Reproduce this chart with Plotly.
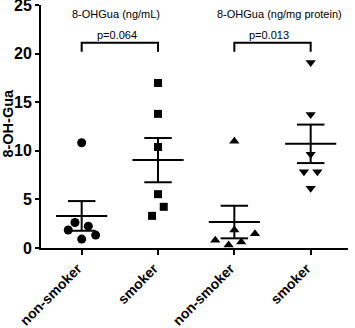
import numpy as np
import plotly.graph_objects as go

# ---- data ----
categories = ["non-smoker", "smoker", "non-smoker", "smoker"]
g1_nonsmoker_ngml = [10.84, 2.63, 2.25, 1.85, 1.33, 0.92]
g2_smoker_ngml = [16.99, 13.81, 10.40, 5.54, 4.24, 3.31]
g3_nonsmoker_ngmg = [10.98, 1.85, 0.80, 0.32, 0.62, 1.47]
g4_smoker_ngmg = [19.10, 13.74, 9.64, 7.86, 7.86, 6.15]
jitter_g1 = [0.0, -0.088, 0.087, -0.176, 0.183, 0.0]
jitter_g2 = [0.0, 0.0, 0.0, 0.0, 0.075, -0.078]
jitter_g3 = [0.0, 0.0, -0.25, -0.075, 0.09, 0.27]
jitter_g4 = [0.0, 0.0, 0.0, -0.088, 0.088, 0.0]
p_values = ["p=0.064", "p=0.013"]
panel_titles = ["8-OHGua (ng/mL)", "8-OHGua (ng/mg protein)"]
y_ticks = [0, 5, 10, 15, 20, 25]

groups = [g1_nonsmoker_ngml, g2_smoker_ngml, g3_nonsmoker_ngmg, g4_smoker_ngmg]
jitters = [jitter_g1, jitter_g2, jitter_g3, jitter_g4]
symbols = ["circle", "square", "triangle-up", "triangle-down"]
sizes = [9, 8, 9, 9]

FONT = "Liberation Sans, Arial, Helvetica, sans-serif"
fig = go.Figure()

for i, (vals, jit, sym, sz) in enumerate(zip(groups, jitters, symbols, sizes)):
    xs = [i + j for j in jit]
    fig.add_trace(go.Scatter(x=xs, y=vals, mode="markers",
                             marker=dict(symbol=sym, size=sz, color="black", line=dict(width=0)),
                             cliponaxis=False, showlegend=False, hoverinfo="skip"))
    v = np.array(vals)
    m = v.mean()
    sem = v.std(ddof=1) / np.sqrt(len(v))
    mw, cw = 0.335, 0.18
    lx = [i - mw, i + mw, None, i - cw, i + cw, None, i - cw, i + cw, None, i, i]
    ly = [m, m, None, m + sem, m + sem, None, m - sem, m - sem, None, m - sem, m + sem]
    fig.add_trace(go.Scatter(x=lx, y=ly, mode="lines", line=dict(color="black", width=2),
                             cliponaxis=False, showlegend=False, hoverinfo="skip"))

# brackets
for k, (a, b) in enumerate([(0, 1), (2, 3)]):
    fig.add_trace(go.Scatter(x=[a, a, b, b], y=[20.2, 21.13, 21.13, 20.2], mode="lines",
                             line=dict(color="black", width=2), showlegend=False,
                             hoverinfo="skip", cliponaxis=False))
    fig.add_annotation(x=(a + b) / 2 - 0.04, y=21.95, text=p_values[k], showarrow=False,
                       font=dict(family=FONT, size=11, color="black"), xanchor="center", yanchor="middle")

fig.add_annotation(x=0.443, y=24.1, text=panel_titles[0], showarrow=False,
                   font=dict(family=FONT, size=11, color="black"), xanchor="center", yanchor="middle")
fig.add_annotation(x=2.585, y=24.1, text=panel_titles[1], showarrow=False,
                   font=dict(family=FONT, size=11, color="black"), xanchor="center", yanchor="middle")

fig.add_annotation(xref="paper", yref="paper", x=-(41 - 8) / 307, y=0.512, text="8-OH-Gua",
                   textangle=-90, showarrow=False, xanchor="center", yanchor="middle",
                   font=dict(family=FONT, size=14.5, color="black", weight="bold"))

fig.update_layout(
    width=355, height=328,
    margin=dict(l=41, r=7, t=5, b=80, pad=0, autoexpand=False),
    paper_bgcolor="white", plot_bgcolor="white",
    font=dict(family=FONT, color="black"),
    xaxis=dict(range=[-0.533, 3.489], tickvals=[0, 1, 2, 3], ticktext=categories,
               tickangle=-45, ticks="outside", ticklen=5, tickwidth=2, tickcolor="black",
               showline=True, linewidth=2, linecolor="black", showgrid=False, zeroline=False,
               automargin=False, ticklabeloverflow="allow", ticklabelshift=-4,
               ticklabelstandoff=0,
               tickfont=dict(family=FONT, size=14, color="black", weight="bold")),
    yaxis=dict(range=[0, 25.02], tickvals=y_ticks, ticks="outside", ticklen=4, tickwidth=2,
               tickcolor="black", showline=True, linewidth=2, linecolor="black",
               showgrid=False, zeroline=False, automargin=False, ticklabeloverflow="allow",
               tickfont=dict(family=FONT, size=16, color="black", weight="bold")),
)

fig.write_html("out.html", config={"displayModeBar": False},
               post_script="document.body.style.margin='0';")
